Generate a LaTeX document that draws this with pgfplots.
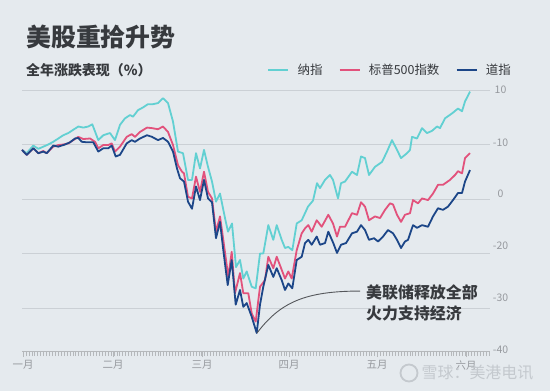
\documentclass[border=0pt]{standalone}
\usepackage{pgfplots}
\pgfplotsset{compat=1.18}
\usepackage{fontspec}
\setmainfont{Noto Sans CJK SC}
\definecolor{bg}{RGB}{229,234,238}
\definecolor{nas}{RGB}{98,208,210}
\definecolor{spx}{RGB}{226,82,124}
\definecolor{dow}{RGB}{28,70,136}
\definecolor{gridc}{RGB}{203,208,213}
\definecolor{lab}{RGB}{150,153,158}
\definecolor{ttl}{RGB}{55,58,62}
\definecolor{wm}{RGB}{196,201,206}
\begin{document}
\begin{tikzpicture}[x=1bp,y=1bp]
\fill[bg] (0,0) rectangle (550,391);
\node[anchor=west, text=ttl, font=\fontsize{25}{30}\selectfont\bfseries, inner sep=0pt] at (26,354) {美股重拾升势};
\node[anchor=west, text=ttl, font=\fontsize{14}{17}\selectfont\bfseries, inner sep=0pt] at (26,321) {全年涨跌表现（\%）};
\begin{axis}[
  at={(22bp,40bp)}, anchor=south west,
  scale only axis, width=468bp, height=266.45bp,
  xmin=22, xmax=490, ymin=-37.9, ymax=11,
  axis x line*=bottom, axis y line*=right,
  y axis line style={draw=none},
  x axis line style={draw=lab!70, line width=0.8bp},
  ytick={10,0,-10,-20,-30}, yticklabels={},
  ytick style={draw=none},
  ymajorgrids, grid style={draw=gridc, line width=0.7bp},
  xtick={23,113,202,289,377,466},
  xticklabels={一月,二月,三月,四月,五月,六月},
  minor xtick={23,25.93,...,490},
  tick align=outside,
  major tick length=6bp, minor tick length=5bp,
  xtick style={draw=lab!70, line width=0.5bp},
  minor x tick style={draw=lab!70, line width=0.5bp},
  xticklabel style={text=lab, font=\fontsize{10.5}{12}\selectfont},
  clip=false,
  legend columns=3,
  legend style={draw=none, fill=none, at={(0.5235,1.0546)}, anchor=west,
    font=\fontsize{12.5}{15}\selectfont, text=ttl, inner sep=0pt,
    /tikz/every odd column/.append style={column sep=6bp},
    /tikz/every even column/.append style={column sep=14bp}},
  legend image code/.code={\draw[#1, line width=2.4bp] (0bp,0bp) -- (20bp,0bp);},
  every axis plot/.append style={line width=1.8bp, line join=round},
]
\addplot[nas] coordinates {
(22,-1.0) (26.7,-1.6) (33.3,-0.2) (38.3,-0.8) (43.3,-0.4) (48.3,0.0) (53.3,0.5) (58.3,1.1)
(63.3,1.7) (68.3,2.1) (73.3,2.7) (78.3,3.3) (83.3,3.1) (88.3,3.3) (92.3,3.7) (98.3,0.8)
(103.3,1.7) (110,2.1) (115,0.8) (120,3.6) (125,4.8) (130,5.4) (133,5.1) (138,6.3)
(143,6.8) (148,7.4) (153,7.4) (158,7.6) (163,8.5) (168,7.6) (173,4.2) (178,-1.3)
(183,-1.6) (188,-6.5) (192,-6.5) (196,-1.6) (200,-4.4) (204,-1.0) (208,-4.1) (212,-6.8)
(216,-10.5) (220,-9.0) (225,-13.5) (228,-16.0) (232,-14.5) (236,-22.5) (240,-21.2) (243.3,-24.6)
(246.7,-23.3) (251.7,-26.1) (255.7,-26.4) (260,-20.0) (263.3,-20.0) (268.3,-14.8) (273.3,-17.5) (276.7,-14.8)
(281.7,-17.5) (285,-19.0) (288.3,-18.8) (292.3,-19.4) (296.7,-14.5) (301.7,-13.9) (305,-12.6) (308,-11.4)
(313,-10.3) (317,-7.1) (320,-8.0) (325,-6.5) (330,-5.6) (333,-6.5) (338,-9.9) (341,-7.1)
(345,-6.8) (352,-5.0) (357,-5.6) (361,-2.2) (365,-2.5) (369,-5.6) (375,-4.1) (382,-3.2)
(387,-1.3) (392,0.8) (397,-1.0) (401,-2.5) (407,-1.6) (410,-1.0) (412,1.4) (417,1.1)
(422,3.0) (427,2.1) (432,2.5) (437,3.3) (440,3.0) (445,4.8) (452,5.7) (458,6.6)
(462,6.1) (465,7.9) (470,9.7)
};
\addlegendentry{纳指\hspace{10bp}}
\addplot[spx] coordinates {
(22,-1.0) (26.7,-1.9) (33.3,-0.7) (38.3,-1.6) (43.3,-1.2) (46.7,-1.6) (53.3,-0.4) (58.3,-0.1)
(63.3,0.0) (68.3,0.2) (73.3,0.8) (78.3,1.4) (83.3,1.0) (90,1.1) (95,0.5) (98.3,-0.7)
(103.3,-0.1) (108.3,-0.1) (111.7,0.2) (115,-1.3) (120,-0.4) (126.7,1.4) (131.7,1.9) (135,1.4)
(140,2.3) (147,3.1) (152,3.0) (158,2.8) (163,3.3) (168,2.3) (173,-0.1) (178,-3.8)
(182,-5.0) (184,-5.3) (188,-9.6) (192,-9.9) (196,-5.9) (200,-8.7) (204,-5.0) (208,-8.7)
(212,-9.9) (216,-16.0) (220,-13.2) (223.3,-17.5) (228.3,-24.3) (231.7,-19.7) (235,-27.3) (240,-23.6)
(243.3,-27.3) (248.3,-27.3) (251.7,-31.0) (255.7,-32.5) (260,-26.1) (265,-24.9) (268.3,-20.6) (273.3,-22.7)
(276.7,-20.6) (281.7,-23.0) (285,-24.6) (288.3,-23.3) (291.7,-24.6) (296.7,-19.4) (301.7,-16.3) (305,-15.4)
(308.3,-14.8) (311.7,-16.0) (316.7,-13.9) (321.7,-15.1) (328.3,-12.9) (333,-14.5) (337,-16.9) (340,-15.1)
(345,-15.1) (352,-12.6) (357,-12.9) (361,-10.6) (365,-11.4) (369,-13.9) (375,-13.2) (380,-13.5)
(385,-12.0) (390,-10.8) (393,-11.0) (397,-12.9) (401,-14.2) (405,-12.9) (410,-12.6) (413,-10.2)
(418,-10.8) (422,-9.9) (428,-10.2) (433,-9.0) (438,-7.4) (443,-7.4) (450,-6.5) (455,-5.6)
(458,-4.9) (462,-5.3) (465,-2.5) (470,-1.6)
};
\addlegendentry{标普500指数}
\addplot[dow] coordinates {
(22,-1.0) (26.7,-1.9) (33.3,-0.7) (38.3,-1.6) (43.3,-1.3) (46.7,-1.6) (53.3,-0.2) (58.3,-0.4)
(65,0.0) (70,0.4) (75,1.1) (78.3,1.2) (81.7,0.5) (86.7,0.4) (93.3,0.4) (98.3,-1.3)
(103.3,-0.7) (108.3,-0.7) (111.7,-0.2) (115.7,-2.2) (120,-1.9) (126.7,0.2) (131.7,0.8) (135,0.5)
(140,1.1) (147,1.7) (152,1.4) (158,0.8) (163,1.2) (168,0.5) (173,-1.3) (177,-4.4)
(180,-6.2) (184,-6.8) (188,-10.5) (192,-11.8) (196,-7.7) (200,-10.2) (204,-6.5) (208,-9.9)
(212,-10.6) (216,-17.2) (220,-14.2) (223.3,-19.4) (227.7,-25.8) (231.7,-21.2) (235.7,-29.4) (240,-26.7)
(243.3,-29.8) (246.7,-29.1) (251.7,-31.6) (256.7,-34.6) (260,-29.4) (263.3,-26.1) (268.3,-22.1) (273.3,-24.3)
(276.7,-22.7) (281.7,-24.9) (285,-26.7) (288.3,-25.5) (292.3,-26.4) (296.7,-21.2) (301.7,-20.6) (305,-18.1)
(308.3,-17.5) (311.7,-18.4) (316.7,-16.9) (320,-18.4) (325,-18.1) (328.3,-16.0) (333.3,-18.1) (337,-19.9)
(341,-18.4) (346,-18.1) (352,-16.3) (357,-16.0) (361,-14.8) (365,-15.7) (369,-17.5) (374,-17.2)
(378,-17.8) (383,-16.9) (388,-15.7) (393,-16.3) (397,-17.5) (401,-19.0) (405,-17.8) (408,-17.5)
(413,-14.8) (417,-15.3) (422,-14.8) (428,-15.1) (433,-13.2) (438,-11.7) (443,-12.0) (448,-11.4)
(453,-10.2) (458,-8.9) (462,-8.9) (465,-6.8) (470,-4.7)
};
\addlegendentry{道指}
\draw[ttl!85, line width=0.9bp] (axis cs:257,-34.6) .. controls (axis cs:280,-29) and (axis cs:305,-26.9) .. (axis cs:360,-26.9);
\begin{scope}[every node/.style={text=lab, font=\fontsize{10.5}{12}\selectfont, anchor=center, inner sep=0pt}]
\node at (axis cs:500.5,10) {10};
\node at (axis cs:500.5,0.28) {-10};
\node at (axis cs:500.5,-9.08) {0};
\node at (axis cs:500.5,-18.6) {-20};
\node at (axis cs:500.5,-28.2) {-30};
\node at (axis cs:500.5,-37.7) {-40};
\end{scope}
\end{axis}
\node[anchor=west, text=ttl, font=\fontsize{16}{19}\selectfont\bfseries, inner sep=0pt] at (366,99) {美联储释放全部};
\node[anchor=west, text=ttl, font=\fontsize{16}{19}\selectfont\bfseries, inner sep=0pt] at (366,78) {火力支持经济};
\draw[wm, line width=1.8bp] (409,18) circle (8.5);
\node[text=wm, font=\fontsize{16}{19}\selectfont, inner sep=0pt] at (477.5,18) {雪球：美港电讯};
\pgfresetboundingbox
\useasboundingbox (0,0) rectangle (550,391);
\end{tikzpicture}
\end{document}
